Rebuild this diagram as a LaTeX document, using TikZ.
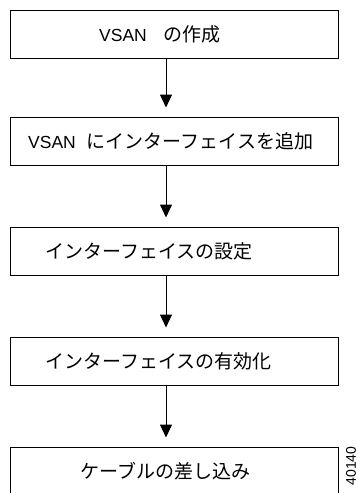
\documentclass[tikz,border=0pt]{standalone}
\usepackage{fontspec}
\setmainfont{Liberation Sans}
\newfontfamily\jp{Noto Sans CJK JP}
\usetikzlibrary{arrows.meta}
\newcommand{\jpt}[1]{{\jp\fontsize{19}{22}\selectfont #1}}
\begin{document}
\begin{tikzpicture}[x=1pt,y=-1pt,
  box/.style={draw=black,line width=1pt,minimum width=328pt,minimum height=48pt,inner sep=0pt},
  lbl/.style={anchor=west,inner sep=0pt,font=\fontsize{17.5}{21}\selectfont},
  flow/.style={draw=black,line width=1pt,-{Triangle[width=12pt,length=13pt]},shorten >=9pt}]
\useasboundingbox (0,0) rectangle (358,493);
\node[box] (b1) at (174,34) {};
\node[box] (b2) at (174,141) {};
\node[box] (b3) at (174,251) {};
\node[box] (b4) at (174,361) {};
\node[box] (b5) at (174,471) {};
\node[lbl] (t1) at (99,34) {VSAN\hspace{17pt}\jpt{の作成}};
\node[lbl] (t2) at (28,141) {VSAN\hspace{11pt}\jpt{にインターフェイスを追加}};
\node[lbl] (t3) at (45,251) {\jpt{インターフェイスの設定}};
\node[lbl] (t4) at (45,361) {\jpt{インターフェイスの有効化}};
\node[lbl] (t5) at (80,471) {\jpt{ケーブルの差し込み}};
\node[rotate=90,inner sep=0pt,font=\fontsize{14}{16}\selectfont] (id) at (351,466) {40140};
\draw[flow] (b1.south -| 166,0) -- (b2.north -| 166,0);
\draw[flow] (b2.south -| 166,0) -- (b3.north -| 166,0);
\draw[flow] (b3.south -| 166,0) -- (b4.north -| 166,0);
\draw[flow] (b4.south -| 166,0) -- (b5.north -| 166,0);
\end{tikzpicture}
\end{document}
